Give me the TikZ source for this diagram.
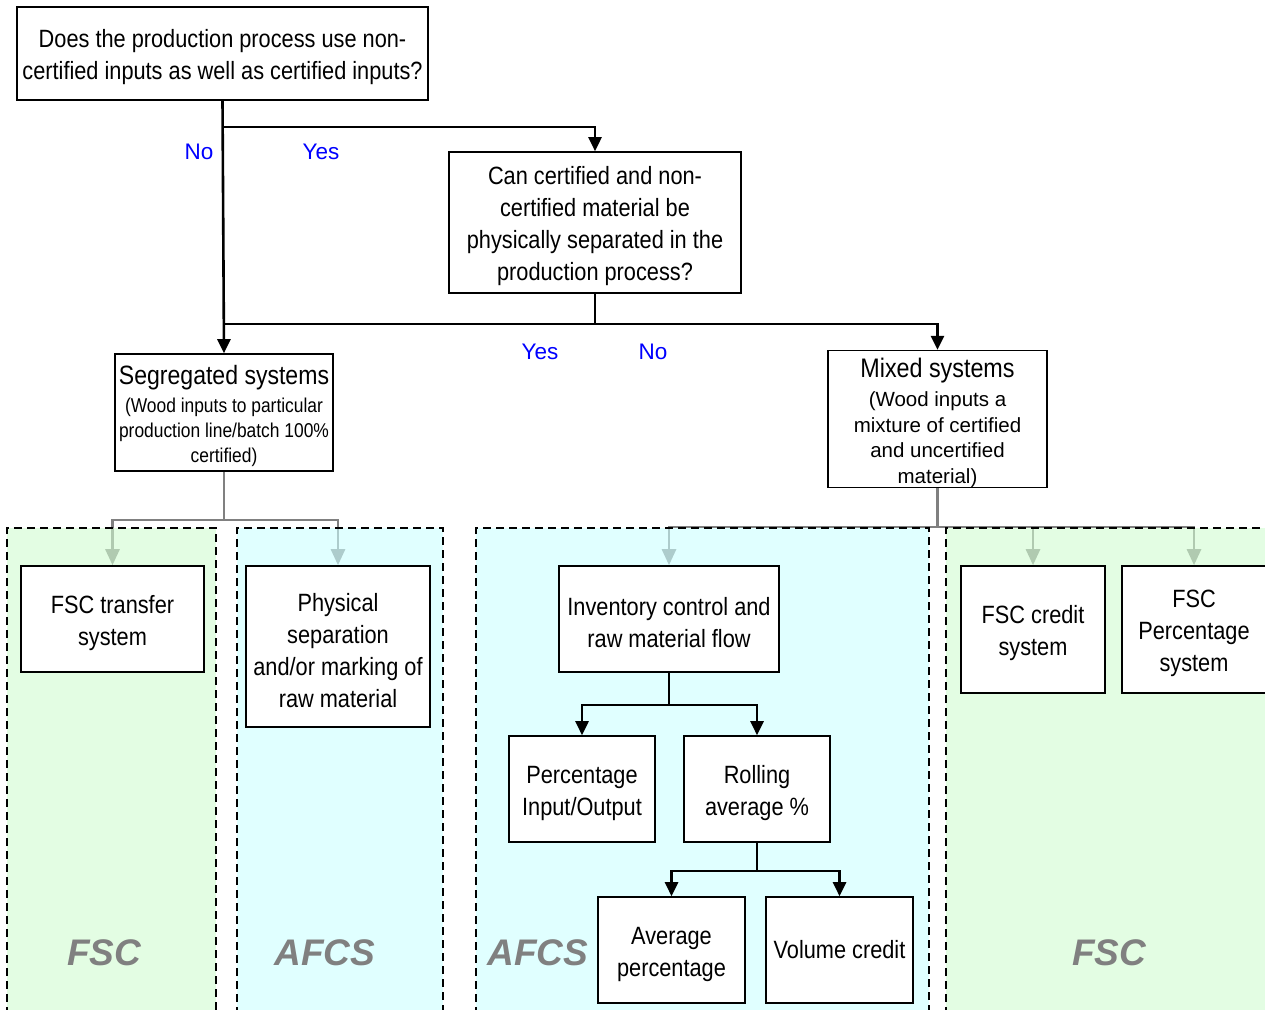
\documentclass[tikz,border=0pt]{standalone}
\usepackage{fontspec}
\setmainfont{Liberation Sans}
\newfontfamily\nar[FakeStretch=0.87]{Liberation Sans}
\usetikzlibrary{arrows.meta}
\definecolor{rgreen}{RGB}{208,252,208}
\definecolor{rcyan}{RGB}{203,255,255}
\definecolor{midgray}{HTML}{808080}
\newcommand{\fstr}{\rule{0pt}{26pt}}
\pgfdeclarelayer{conlayer}
\pgfdeclarelayer{filllayer}
\pgfsetlayers{conlayer,filllayer,main}
\begin{document}
\begin{tikzpicture}[x=1pt,y=-1pt,
  box/.style={draw=black, line width=1.6pt, fill=white, inner sep=0pt, align=center,
    font=\nar\fontsize{25}{32}\selectfont},
  conn/.style={line width=2.6pt, black},
  arr/.style={conn, -{Triangle[length=14pt,width=13pt]}},
  gconn/.style={line width=2.6pt, color=midgray},
  garr/.style={gconn, -{Triangle[length=16pt,width=14pt]}},
  region/.style={draw=black, line width=1.6pt, dash pattern=on 8pt off 5pt},
  lbl/.style={font=\fontsize{22.5}{26}\selectfont, text=blue, inner sep=0pt},
  std/.style={font=\bfseries\itshape\fontsize{37}{40}\selectfont, text=midgray, inner sep=0pt},
]
\useasboundingbox (0,0) rectangle (1265,1009);

% boxes
\node[box, minimum width=411pt, minimum height=93pt] (q1) at (222.5,53.5)
  {\fstr Does the production process use non-\\certified inputs as well as certified inputs?};
\node[box, minimum width=292pt, minimum height=141pt] (q2) at (595,222.5)
  {\fstr Can certified and non-\\certified material be\\physically separated in the\\production process?};
\node[box, minimum width=218pt, minimum height=117pt, font=\nar\fontsize{20}{25}\selectfont] (seg) at (224,412.5)
  {{\fontsize{26.5}{28}\selectfont\rule{0pt}{27pt}Segregated systems}\\[3pt](Wood inputs to particular\\production line/batch 100\%\\certified)};
\node[box, minimum width=219pt, minimum height=136pt, font=\fontsize{20.5}{25.5}\selectfont] (mix) at (937.5,419)
  {{\nar\fontsize{26.8}{28}\selectfont\rule{0pt}{27pt}Mixed systems}\\[3.5pt](Wood inputs a\\mixture of certified\\and uncertified\\material)};

% regions
\begin{pgfonlayer}{filllayer}
  \fill[rgreen, fill opacity=0.6] (7,528) rectangle (216,1015);
  \fill[rcyan, fill opacity=0.6] (237,528) rectangle (443,1015);
  \fill[rcyan, fill opacity=0.6] (476,528) rectangle (929,1015);
  \fill[rgreen, fill opacity=0.6] (946,528) rectangle (1275,1015);
  \draw[region] (7,1015) -- (7,528) -- (216,528) -- (216,1015);
  \draw[region] (237,1015) -- (237,528) -- (443,528) -- (443,1015);
  \draw[region] (476,1015) -- (476,528) -- (929,528) -- (929,1015);
  \draw[region] (946,1015) -- (946,528) -- (1275,528);
\end{pgfonlayer}

\node[box, minimum width=183pt, minimum height=106pt] (fsct) at (112.5,619) {\fstr FSC transfer\\system};
\node[box, minimum width=184pt, minimum height=161pt] (phys) at (338,646.5) {\fstr Physical\\separation\\and/or marking of\\raw material};
\node[box, minimum width=220pt, minimum height=106pt] (inv) at (669,619) {\fstr Inventory control and\\raw material flow};
\node[box, minimum width=146pt, minimum height=106pt] (pct) at (582,789) {\fstr Percentage\\Input/Output};
\node[box, minimum width=146pt, minimum height=106pt] (roll) at (757,789) {\fstr Rolling\\average \%};
\node[box, minimum width=147pt, minimum height=106pt] (avg) at (671.5,950) {\fstr Average\\percentage};
\node[box, minimum width=147pt, minimum height=106pt] (vol) at (839.5,950) {Volume credit};
\node[box, minimum width=144pt, minimum height=127pt] (fscc) at (1033,629.5) {\fstr FSC credit\\system};
\node[box, minimum width=144pt, minimum height=127pt] (fscp) at (1194,629.5) {\fstr FSC\\Percentage\\system};

% standard labels
\node[std] (s1) at (104,953) {FSC};
\node[std] (s2) at (325,953) {AFCS};
\node[std] (s3) at (538,953) {AFCS};
\node[std] (s4) at (1109,953) {FSC};

% yes/no labels
\node[lbl] (l1) at (199,152) {No};
\node[lbl] (l2) at (321,152) {Yes};
\node[lbl] (l3) at (540,352) {Yes};
\node[lbl] (l4) at (653,352) {No};

% black connectors
\draw[arr] (q1.south) -- (seg.north);
\path (q1.south) ++(0,26) coordinate (ja);
\draw[arr] (ja) -| (q2.north);
\path (q2.south) ++(0,30) coordinate (jb);
\draw[conn] (q2.south) -- (jb);
\draw[arr] (jb) -| (mix.north);
\draw[conn] (jb) -- (jb -| seg.north);

\path (inv.south) ++(0,32) coordinate (jc);
\draw[conn] (inv.south) -- (jc);
\draw[arr] (jc) -| (pct.north);
\draw[arr] (jc) -| (roll.north);

\path (roll.south) ++(0,28) coordinate (jd);
\draw[conn] (roll.south) -- (jd);
\draw[arr] (jd) -| (avg.north);
\draw[arr] (jd) -| (vol.north);

% gray connectors
\begin{pgfonlayer}{conlayer}
  \path (seg.south) ++(0,48) coordinate (je);
  \draw[gconn] (seg.south) -- (je);
  \draw[garr] (je) -| (fsct.north);
  \draw[garr] (je) -| (phys.north);
  \path (mix.south) ++(0,39) coordinate (jf);
  \draw[gconn] (mix.south) -- (jf);
  \draw[garr] (jf) -| (inv.north);
  \draw[garr] (jf) -| (fscc.north);
  \draw[garr] (jf) -| (fscp.north);
\end{pgfonlayer}
\end{tikzpicture}
\end{document}
